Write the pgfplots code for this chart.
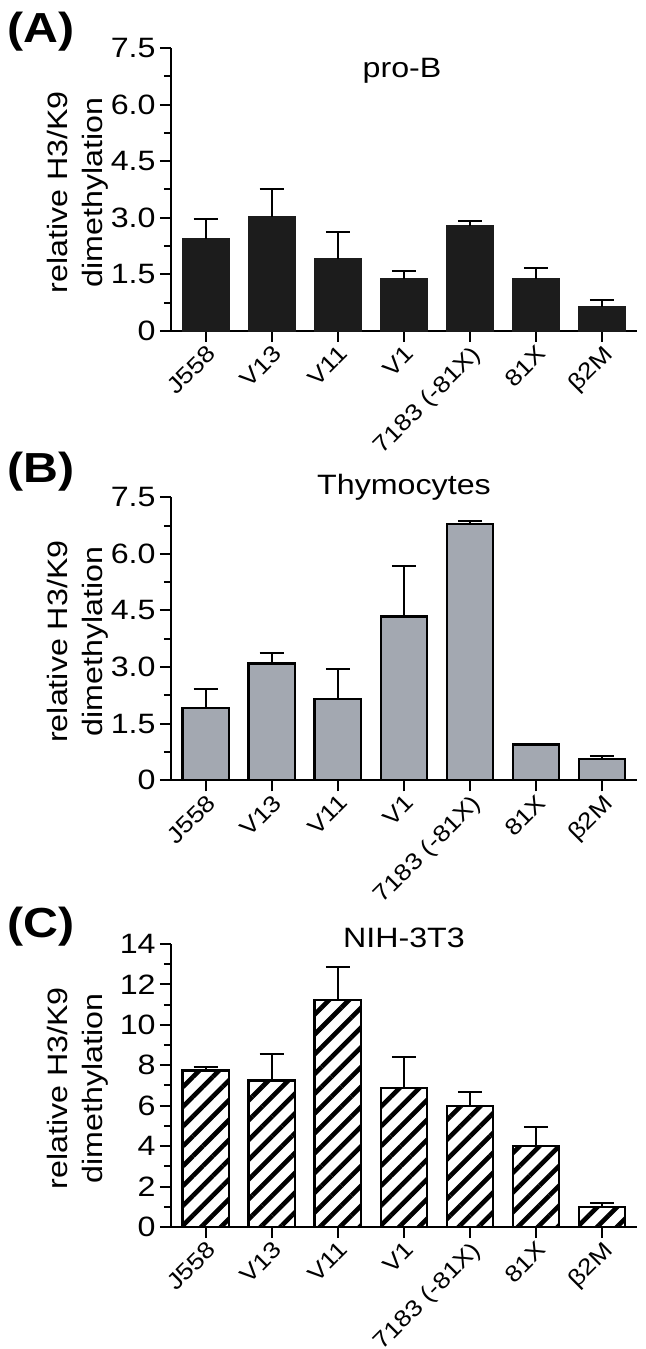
\documentclass[border=0pt]{standalone}
\usepackage{fontspec}
\setmainfont{Liberation Sans}[FakeStretch=1.15]
\usepackage{pgfplots}
\usepackage{pgfplotstable}
\pgfplotsset{compat=1.18}
\usetikzlibrary{patterns.meta}
\definecolor{barA}{HTML}{1C1C1C}
\definecolor{barB}{HTML}{A3A8B1}

\pgfplotstableread{
x y e
0 2.45 0.51
1 3.02 0.73
2 1.92 0.71
3 1.39 0.20
4 2.78 0.14
5 1.38 0.30
6 0.64 0.19
}\dataA
\pgfplotstableread{
x y e
0 1.92 0.49
1 3.10 0.27
2 2.15 0.81
3 4.34 1.34
4 6.80 0.08
5 0.95 0.01
6 0.57 0.08
}\dataB
\pgfplotstableread{
x y e
0 7.75 0.16
1 7.25 1.32
2 11.23 1.65
3 6.89 1.51
4 6.00 0.68
5 4.01 0.92
6 0.99 0.18
}\dataC

\pgfplotsset{panel/.style={
  scale only axis, width=233pt, height=141.5pt,
  anchor=south west,
  axis x line*=bottom, axis y line*=left,
  axis line style={line width=1pt, black},
  every tick/.style={line width=1pt, black},
  tick align=outside, major tick length=5.5pt, minor tick length=3.5pt,
  xmin=-0.525, xmax=6.53, ymin=0,
  xtick={0,...,6},
  xticklabels={J558,V13,V11,V1,7183 (-81X),81X,β2M},
  xticklabel style={rotate=45, anchor=north east, font=\fontsize{11.5}{12}\selectfont, inner sep=0.5pt},
  yticklabel style={font=\fontsize{14}{14}\selectfont, inner sep=2pt},
  /pgf/number format/assume math mode=true,
  minor y tick num=1,
  ylabel={relative H3/K9\\dimethylation},
  ylabel style={align=center, font=\fontsize{14}{17.5}\selectfont, at={(axis description cs:-0.2,0.49)}, anchor=center},
  ybar, bar width=0.7,
  clip=false,
}}
\pgfplotsset{ebar/.style={/pgfplots/error bars/y dir=plus, /pgfplots/error bars/y explicit,
  /pgfplots/error bars/error bar style={line width=1pt, black},
  /pgfplots/error bars/error mark options={rotate=90, line width=1pt, mark size=6pt, black}}}

\begin{document}
\begin{tikzpicture}
\useasboundingbox (0,0) rectangle (322.5pt,674.5pt);
% Panel A
\begin{axis}[panel, at={(85.5pt,509pt)}, ymax=7.5,
  ytick={0,1.5,3,4.5,6,7.5}, yticklabels={0,1.5,3.0,4.5,6.0,7.5}]
\addplot[fill=barA, draw=barA, line width=1pt, ebar] table[x=x, y=y, y error=e] {\dataA};
\end{axis}
% Panel B
\begin{axis}[panel, at={(85.5pt,284.35pt)}, ymax=7.5,
  ytick={0,1.5,3,4.5,6,7.5}, yticklabels={0,1.5,3.0,4.5,6.0,7.5}]
\addplot[fill=barB, draw=black, line width=1.2pt, ebar] table[x=x, y=y, y error=e] {\dataB};
\end{axis}
% Panel C
\begin{axis}[panel, at={(85.5pt,61pt)}, ymax=14,
  ytick={0,2,...,14}, yticklabels={0,2,4,6,8,10,12,14}]
\addplot[fill=white, draw=black, line width=1.2pt,
  postaction={pattern={Lines[angle=45, distance=7pt, line width=2.3pt]}, pattern color=black}, ebar]
  table[x=x, y=y, y error=e] {\dataC};
\end{axis}
% titles and panel letters
\node[anchor=base, font=\fontsize{14}{15}\selectfont] at (201pt,635.65pt) {pro-B};
\node[anchor=base, font=\fontsize{14}{15}\selectfont] at (202pt,427pt) {Thymocytes};
\node[anchor=base, font=\fontsize{14}{15}\selectfont] at (202pt,200.5pt) {NIH-3T3};
\node[anchor=base west, inner sep=0pt, font=\fontsize{21}{22}\bfseries] at (3.5pt,653pt) {(A)};
\node[anchor=base west, inner sep=0pt, font=\fontsize{21}{22}\bfseries] at (3.5pt,433pt) {(B)};
\node[anchor=base west, inner sep=0pt, font=\fontsize{21}{22}\bfseries] at (3.5pt,205.5pt) {(C)};
\end{tikzpicture}
\end{document}
